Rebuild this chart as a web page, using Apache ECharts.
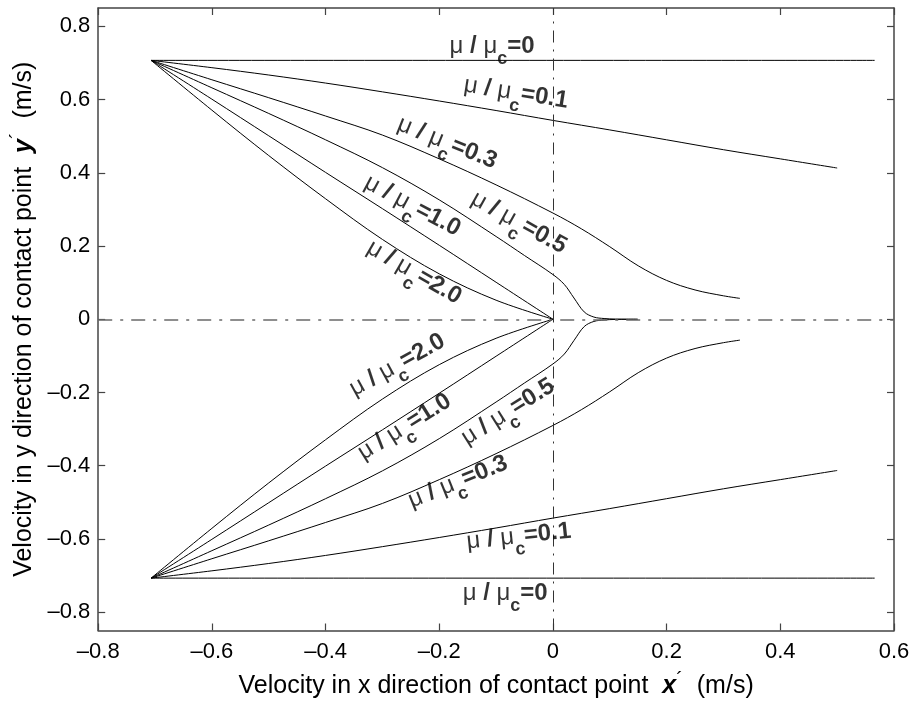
<!DOCTYPE html>
<html>
<head>
<meta charset="utf-8">
<script src="https://cdn.jsdelivr.net/npm/echarts@6/dist/echarts.min.js"></script>
<style>html,body{margin:0;padding:0;background:#fff}#c{width:916px;height:704px}</style>
</head>
<body>
<div id="c"></div>
<script>
// ---- tick values ----
const xTicks = [-0.8, -0.6, -0.4, -0.2, 0, 0.2, 0.4, 0.6];
const yTicks = [-0.8, -0.6, -0.4, -0.2, 0, 0.2, 0.4, 0.6, 0.8];

// ---- curve x samples ----
const x00 = [-0.707, 0.566];
const x01 = [-0.707, -0.6, -0.5, -0.4, -0.3, -0.2, -0.1, 0, 0.1, 0.2, 0.3, 0.4, 0.5];
const x03 = [-0.707, -0.6, -0.5, -0.4, -0.3, -0.2, -0.1, 0, 0.05, 0.1, 0.15, 0.2, 0.25, 0.3, 0.329];
const x05 = [-0.707, -0.6, -0.5, -0.4, -0.3, -0.2, -0.1, -0.05, 0, 0.02, 0.037, 0.055, 0.072, 0.09, 0.11, 0.13, 0.149];
const x10 = [-0.707, -0.6, -0.5, -0.4, -0.3, -0.2, -0.1, 0];
const x20 = [-0.707, -0.6, -0.5, -0.4, -0.3, -0.2, -0.1, 0];

// ---- upper branch (y > 0) ----
const y00Top = [0.707, 0.707];
const y01Top = [0.707, 0.687, 0.667, 0.645, 0.621, 0.596, 0.570, 0.543, 0.517, 0.490, 0.463, 0.438, 0.413];
const y03Top = [0.707, 0.654, 0.605, 0.555, 0.503, 0.438, 0.367, 0.290, 0.247, 0.198, 0.146, 0.106, 0.080, 0.064, 0.057];
const y05Top = [0.707, 0.632, 0.562, 0.490, 0.414, 0.326, 0.226, 0.174, 0.122, 0.095, 0.058, 0.020, 0.006, 0.002, 0.0005, 0, 0];
const y10Top = [0.707, 0.601, 0.501, 0.401, 0.302, 0.202, 0.101, 0];
const y20Top = [0.707, 0.571, 0.447, 0.329, 0.218, 0.124, 0.052, 0];

// ---- lower branch (y < 0) ----
const y00Bot = [-0.707, -0.707];
const y01Bot = [-0.707, -0.687, -0.667, -0.645, -0.621, -0.596, -0.570, -0.543, -0.517, -0.490, -0.463, -0.438, -0.413];
const y03Bot = [-0.707, -0.654, -0.605, -0.555, -0.503, -0.438, -0.367, -0.290, -0.247, -0.198, -0.146, -0.106, -0.080, -0.064, -0.057];
const y05Bot = [-0.707, -0.632, -0.562, -0.490, -0.414, -0.326, -0.226, -0.174, -0.122, -0.095, -0.058, -0.020, -0.006, -0.002, -0.0005, 0, 0];
const y10Bot = [-0.707, -0.601, -0.501, -0.401, -0.302, -0.202, -0.101, 0];
const y20Bot = [-0.707, -0.571, -0.447, -0.329, -0.218, -0.124, -0.052, 0];

// ---- curve labels: ratio text, anchor (data coords), rotation ----
const labelText = ['0', '0.1', '0.3', '1.0', '0.5', '2.0', '2.0', '1.0', '0.5', '0.3', '0.1', '0'];
const labelX = [-0.107, -0.065, -0.186, -0.247, -0.060, -0.244, -0.274, -0.261, -0.079, -0.167, -0.060, -0.084];
const labelY = [0.745, 0.618, 0.482, 0.310, 0.264, 0.128, -0.125, -0.294, -0.253, -0.444, -0.593, -0.748];
const labelRot = [0, -9, -22, -28, -29, -30, 29, 32, 32, 22, 6, 0];

const FONT = 'Liberation Sans, Arial, Helvetica, sans-serif';
const zip = (xs, ys) => xs.map((x, i) => [x, ys[i]]);

const curves = [
  [x00, y00Top], [x01, y01Top], [x03, y03Top], [x05, y05Top], [x10, y10Top], [x20, y20Top],
  [x00, y00Bot], [x01, y01Bot], [x03, y03Bot], [x05, y05Bot], [x10, y10Bot], [x20, y20Bot]
];

const tickFmt = v => {
  if (Math.abs(v) < 1e-9) return '0';
  return (v < 0 ? '\u2013' : '') + Math.abs(v).toFixed(1);
};

const series = curves.map(c => ({
  type: 'line',
  data: zip(c[0], c[1]),
  showSymbol: false,
  symbol: 'none',
  smooth: 0.35,
  silent: true,
  clip: false,
  lineStyle: { color: '#000', width: 1 },
  z: 3
}));

// reference dash-dot lines at y = 0 and x = 0
series.push({
  type: 'line',
  data: [],
  silent: true,
  markLine: {
    silent: true,
    symbol: 'none',
    label: { show: false },
    data: [
      { yAxis: 0, lineStyle: { color: '#6a6a6a', width: 1.6, type: [14, 8, 3, 8] } },
      { xAxis: 0, lineStyle: { color: '#333', width: 1, type: [12, 7, 2, 7] } }
    ]
  },
  z: 2
});

// curve annotation labels
const tokenBase = { fontFamily: FONT, color: '#000', textBorderWidth: 0, textShadowBlur: 0 };
const richStyles = {
  m: Object.assign({}, tokenBase, { fontSize: 24, fontWeight: 'normal' }),
  b: Object.assign({}, tokenBase, { fontSize: 24, fontWeight: 'bold' }),
  s: Object.assign({}, tokenBase, { fontSize: 18, fontWeight: 'bold', padding: [26, 0, 0, 0] })
};
series.push({
  type: 'scatter',
  symbolSize: 0,
  silent: true,
  z: 5,
  itemStyle: { color: '#000' },
  data: labelText.map((t, i) => ({
    value: [labelX[i], labelY[i]],
    label: {
      show: true,
      position: 'inside',
      color: '#000',
      textBorderWidth: 0,
      textBorderColor: 'transparent',
      rotate: labelRot[i],
      formatter: '{m|\u03bc }{b|/}{m| \u03bc}{s|c}{b|=' + t + '}',
      rich: richStyles
    }
  }))
});

const frameLine = { show: true, onZero: false, lineStyle: { color: '#444', width: 1.5 } };
const tickStyle = { show: true, inside: true, length: 7, lineStyle: { color: '#444', width: 1.2 } };
const nameRich = {
  t: { fontFamily: FONT, fontSize: 25, color: '#000' },
  v: { fontFamily: FONT, fontSize: 25, fontWeight: 'bold', fontStyle: 'italic', color: '#000' },
  p: { fontFamily: FONT, fontSize: 20, color: '#000', padding: [0, 0, 12, 0] }
};

const option = {
  backgroundColor: '#fff',
  animation: false,
  grid: { left: 96, right: 22, top: 8, bottom: 71, containLabel: false },
  xAxis: [
    {
      type: 'value', position: 'bottom', min: -0.8, max: 0.6, interval: 0.2,
      axisLine: frameLine, axisTick: tickStyle, splitLine: { show: false },
      axisLabel: { formatter: tickFmt, fontSize: 22, color: '#000', fontFamily: FONT, margin: 10 },
      name: '{t|Velocity in x direction of contact point  }{v|x}{p|\u00b4}{t|  (m/s)}',
      nameLocation: 'middle', nameGap: 40,
      nameTextStyle: { rich: nameRich }
    },
    {
      type: 'value', position: 'top', min: -0.8, max: 0.6, interval: 0.2,
      axisLine: frameLine, axisTick: tickStyle, splitLine: { show: false },
      axisLabel: { show: false }
    }
  ],
  yAxis: [
    {
      type: 'value', position: 'left', min: -0.85, max: 0.85,
      axisLine: frameLine,
      axisTick: Object.assign({}, tickStyle, { customValues: yTicks }),
      splitLine: { show: false },
      axisLabel: { customValues: yTicks, formatter: tickFmt, fontSize: 22, color: '#000', fontFamily: FONT, margin: 8 },
      name: '{t|Velocity in y direction of contact point  }{v|y}{p|\u00b4}{t|  (m/s)}',
      nameLocation: 'middle', nameGap: 56, nameRotate: 90,
      nameTextStyle: { rich: nameRich }
    },
    {
      type: 'value', position: 'right', min: -0.85, max: 0.85,
      axisLine: frameLine,
      axisTick: Object.assign({}, tickStyle, { customValues: yTicks }),
      splitLine: { show: false },
      axisLabel: { show: false, customValues: yTicks }
    }
  ],
  series: series
};

const chart = echarts.init(document.getElementById('c'), null, { renderer: 'canvas' });
chart.setOption(option);
</script>
</body>
</html>
